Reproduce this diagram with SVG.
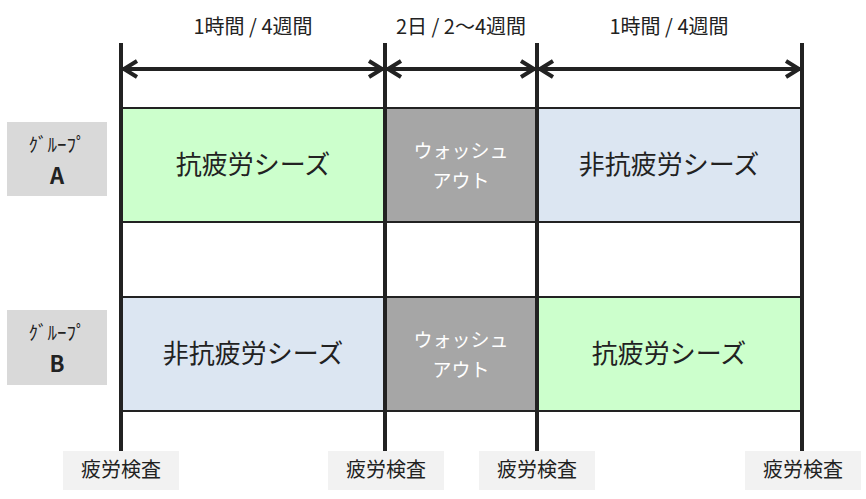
<svg xmlns="http://www.w3.org/2000/svg" width="866" height="499" viewBox="0 0 866 499">
<style>
text{font-family:"Noto Sans CJK JP","Noto Sans",sans-serif;fill:#222;text-anchor:middle}
.v{stroke:#222;stroke-width:4}
.a{stroke:#222;stroke-width:4;fill:none}
.box{stroke:#222;stroke-width:2}
.g{fill:#ccffcc}.b{fill:#dce6f2}.w{fill:#a6a6a6}
.lbl{fill:#d9d9d9}
.ins{fill:#f2f2f2}
.big{font-size:26px}
.wt{font-size:19px;fill:#fff}
.top{font-size:20px}
.bt{font-size:20px}
</style>
<rect width="866" height="499" fill="#fff"/>
<g id="rowA">
<rect class="box g" x="121" y="108" width="264" height="114"/>
<rect class="box w" x="385" y="108" width="152" height="114"/>
<rect class="box b" x="537" y="108" width="265" height="114"/>
<text class="big" x="253" y="174">抗疲労シーズ</text>
<text class="wt" x="461" y="158">ウォッシュ</text>
<text class="wt" x="461" y="188">アウト</text>
<text class="big" x="669" y="174">非抗疲労シーズ</text>
</g>
<g id="rowB">
<rect class="box b" x="121" y="297" width="264" height="114"/>
<rect class="box w" x="385" y="297" width="152" height="114"/>
<rect class="box g" x="537" y="297" width="265" height="114"/>
<text class="big" x="253" y="363">非抗疲労シーズ</text>
<text class="wt" x="461" y="347">ウォッシュ</text>
<text class="wt" x="461" y="377">アウト</text>
<text class="big" x="669" y="363">抗疲労シーズ</text>
</g>
<g id="labelA"><rect class="lbl" x="7" y="122" width="100" height="74"/>
<text x="57" y="152" font-size="19">ｸﾞﾙｰﾌﾟ</text><text x="57" y="184" font-size="22" font-weight="bold">A</text></g>
<g id="labelB"><rect class="lbl" x="7" y="310" width="100" height="75"/>
<text x="57" y="340" font-size="19">ｸﾞﾙｰﾌﾟ</text><text x="57" y="372" font-size="22" font-weight="bold">B</text></g>
<g id="connectors">
<line class="v" x1="121" y1="43" x2="121" y2="451"/>
<line class="v" x1="385" y1="43" x2="385" y2="451"/>
<line class="v" x1="537" y1="43" x2="537" y2="451"/>
<line class="v" x1="802" y1="43" x2="802" y2="451"/>
<line class="a" x1="123" y1="69" x2="800" y2="69"/>
<path class="a" d="M137 61L124 69L137 77M369 61L382 69L369 77M401 61L388 69L401 77M521 61L534 69L521 77M553 61L540 69L553 77M786 61L799 69L786 77"/>
</g>
<g id="toplabels">
<text class="top" x="253" y="34">1時間 / 4週間</text>
<text class="top" x="461" y="34">2日 / 2〜4週間</text>
<text class="top" x="669" y="34">1時間 / 4週間</text>
</g>
<g id="tests">
<rect class="ins" x="63" y="451" width="116" height="39"/><text class="bt" x="121" y="477">疲労検査</text>
<rect class="ins" x="328" y="451" width="116" height="39"/><text class="bt" x="386" y="477">疲労検査</text>
<rect class="ins" x="479" y="451" width="116" height="39"/><text class="bt" x="537" y="477">疲労検査</text>
<rect class="ins" x="745" y="451" width="116" height="39"/><text class="bt" x="803" y="477">疲労検査</text>
</g>
</svg>
